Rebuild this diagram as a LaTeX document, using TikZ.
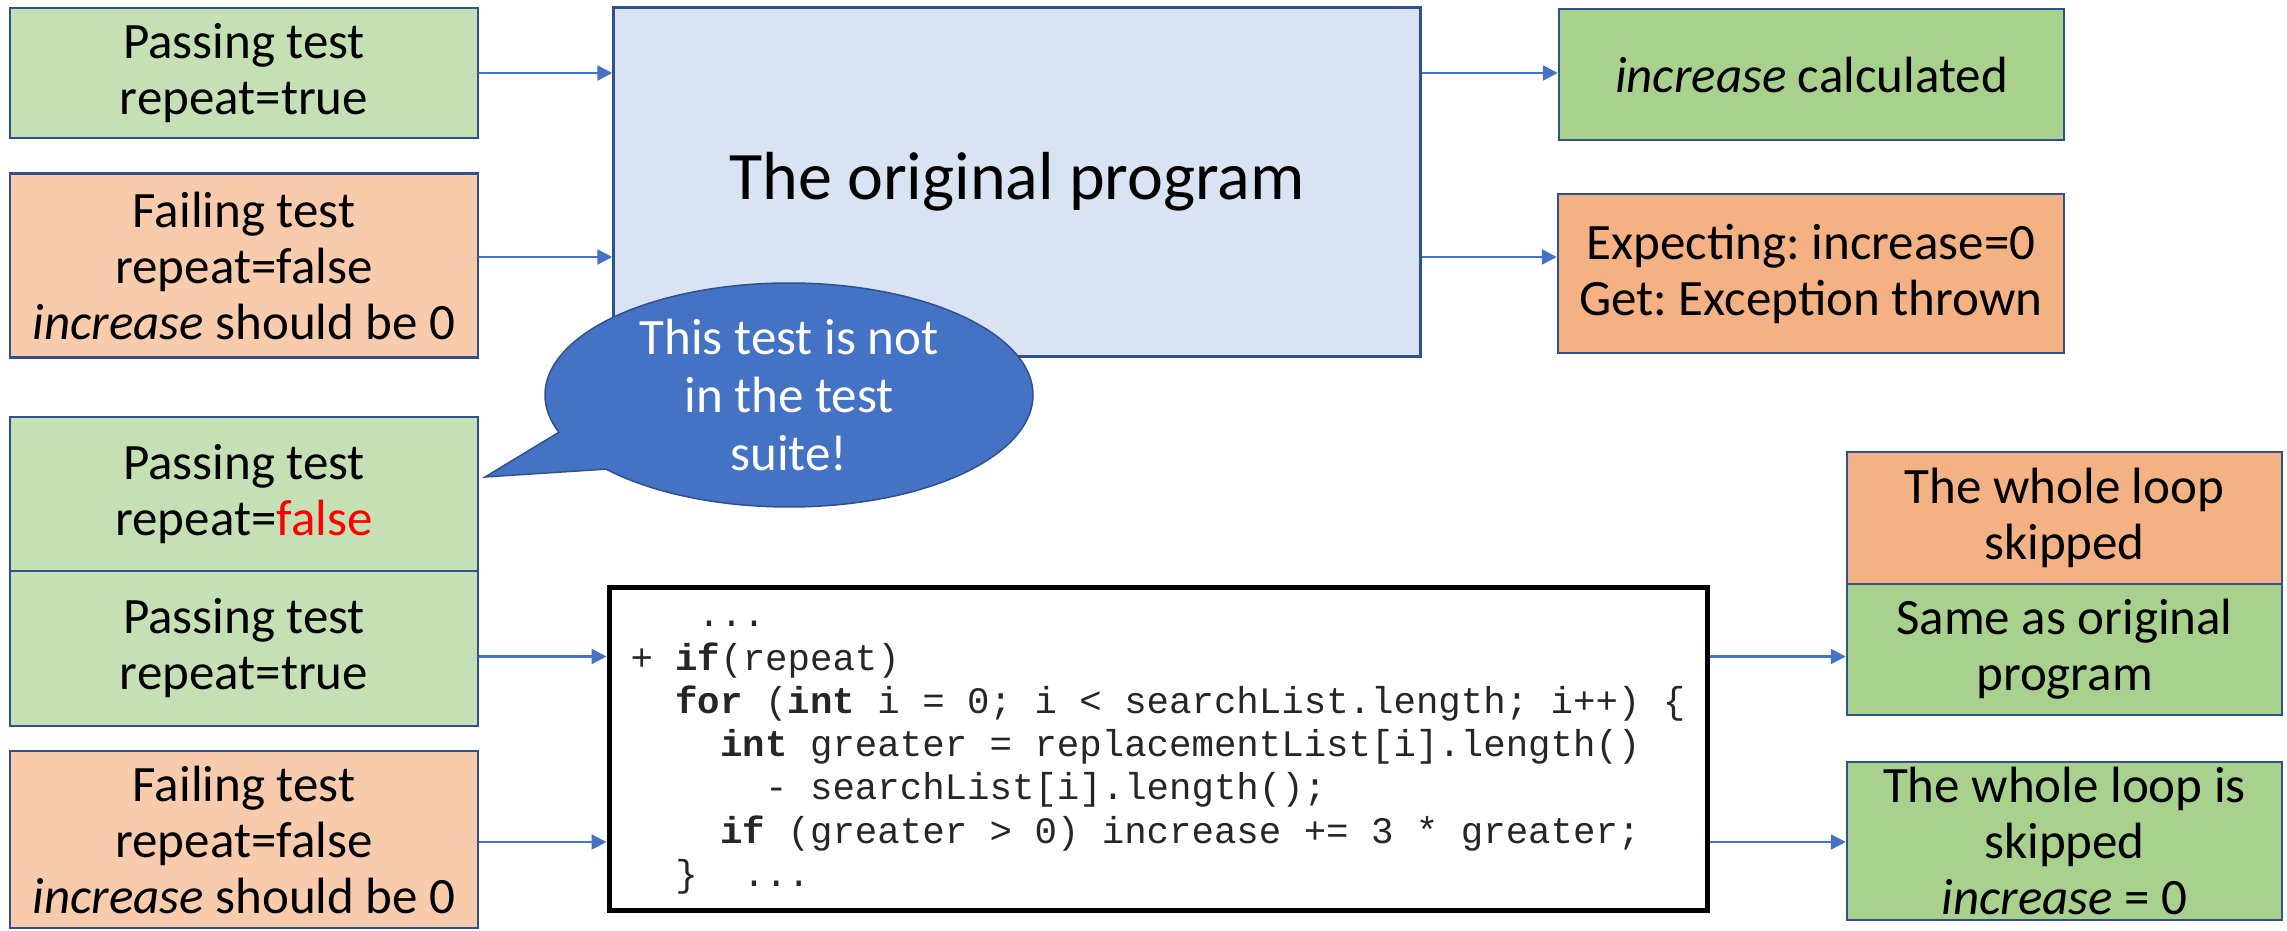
\documentclass[tikz,border=0pt]{standalone}
\usepackage{fontspec}
\setmainfont{Carlito}
\newfontfamily\codefont{Liberation Mono}
\usetikzlibrary{arrows.meta,shapes.callouts}

\definecolor{bord}{HTML}{2F528F}
\definecolor{arrowc}{HTML}{4472C4}
\definecolor{passfill}{HTML}{C5E0B4}
\definecolor{failfill}{HTML}{F8CBAD}
\definecolor{progfill}{HTML}{DAE3F3}
\definecolor{okfill}{HTML}{A9D18E}
\definecolor{badfill}{HTML}{F4B183}
\definecolor{calloutfill}{HTML}{4472C4}
\definecolor{codeink}{HTML}{262626}

\newcommand\boxtext{\fontsize{51}{56}\selectfont}
\newcommand\bigtext{\fontsize{68}{74}\selectfont}
\newcommand\codetext{\codefont\fontsize{37.4}{43.3}\selectfont}
\newcommand\ind[1]{\hspace*{#1em}}

\tikzset{
  box/.style={draw=bord, line width=2.5pt, inner sep=0pt, align=center, font=\boxtext},
  passbox/.style={box, fill=passfill, minimum width=468pt},
  failbox/.style={box, fill=failfill, minimum width=468pt},
  progbox/.style={box, fill=progfill, font=\bigtext},
  okbox/.style={box, fill=okfill},
  badbox/.style={box, fill=badfill},
  codebox/.style={draw=black, line width=5pt, fill=white, inner sep=0pt,
    align=left, font=\codetext, text=codeink},
  bubble/.style={ellipse callout, draw=bord, line width=1.5pt, fill=calloutfill,
    text=white, inner sep=0pt, minimum width=488pt, minimum height=224pt,
    callout pointer arc=22},
  arr/.style={draw=arrowc, line width=2.5pt, -{Triangle[length=15pt,width=15pt]}}
}

\begin{document}
\frenchspacing
\begin{tikzpicture}[x=1pt,y=-1pt]
\fill[white] (0,0) rectangle (2287,931);
\useasboundingbox (0,0) rectangle (2287,931);

% inputs to the original program
\node[passbox, minimum height=130pt] (p1) at (244,73) {Passing test\\repeat=true};
\node[failbox, minimum height=184pt] (f1) at (244,265.5)
  {Failing test\\repeat=false\\\textit{increase} should be 0};

% the original program and its outputs
\node[progbox, minimum width=807pt, minimum height=349pt] (orig) at (1017,182)
  {The original program};
\node[okbox, minimum width=505pt, minimum height=131pt] (inc) at (1811.5,74.5)
  {\textit{increase} calculated};
\node[badbox, minimum width=506pt, minimum height=159pt] (exp) at (1811,273.5)
  {Expecting: increase=0\\Get: Exception thrown};

% the patched program's inputs
\node[passbox, minimum height=154pt] (p2) at (244,494)
  {Passing test\\repeat=\textcolor{red}{false}};
\node[passbox, minimum height=155pt] (p3) at (244,648.5) {Passing test\\repeat=true};
\node[failbox, minimum height=177pt] (f2) at (244,839.5)
  {Failing test\\repeat=false\\\textit{increase} should be 0};

% the patched code
\node[codebox, minimum width=1098pt, minimum height=323pt] (code) at (1158,748.5) {%
\rule{0pt}{24pt}\ind{1.8}...\\
+ \textbf{if}(repeat)\\
\ind{1.2}\textbf{for} (\textbf{int} i = 0; i < searchList.length; i++) \{\\
\ind{2.4}\textbf{int} greater = replacementList[i].length()\\
\ind{3.6}- searchList[i].length();\\
\ind{2.4}\textbf{if} (greater > 0) increase += 3 * greater;\\
\ind{1.2}\}\ind{1.2}...};

% the patched program's outputs
\node[badbox, minimum width=435pt, minimum height=132pt] (ws) at (2064.5,518)
  {The whole loop\\skipped};
\node[okbox, minimum width=435pt, minimum height=131pt] (same) at (2064.5,649.5)
  {Same as original\\program};
\node[okbox, minimum width=435pt, minimum height=158pt] (wis) at (2064.5,841)
  {The whole loop is\\skipped\\\textit{increase} = 0};

% speech bubble pointing at the new passing test
\coordinate (tip) at (485,477);
\node[bubble, callout absolute pointer={(tip)}] (call) at (789,395)
  {\parbox[c][150pt][c]{330pt}{\centering\fontsize{51}{58}\selectfont
    This test is not\\in the test\\suite!}};

% connectors
\coordinate (r1) at (p1.east);
\coordinate (r2) at ([yshift=8.5pt]f1.east);
\coordinate (r3) at ([yshift=-8pt]p3.east);
\coordinate (r4) at ([yshift=-2.5pt]f2.east);
\draw[arr] (r1) -- (r1 -| orig.west);
\draw[arr] (r2) -- (r2 -| orig.west);
\draw[arr] (r1 -| orig.east) -- (r1 -| inc.west);
\draw[arr] (r2 -| orig.east) -- (r2 -| exp.west);
\draw[arr] (r3) -- (r3 -| code.west);
\draw[arr] (r4) -- (r4 -| code.west);
\draw[arr] (r3 -| code.east) -- (r3 -| same.west);
\draw[arr] (r4 -| code.east) -- (r4 -| wis.west);
\end{tikzpicture}
\end{document}
